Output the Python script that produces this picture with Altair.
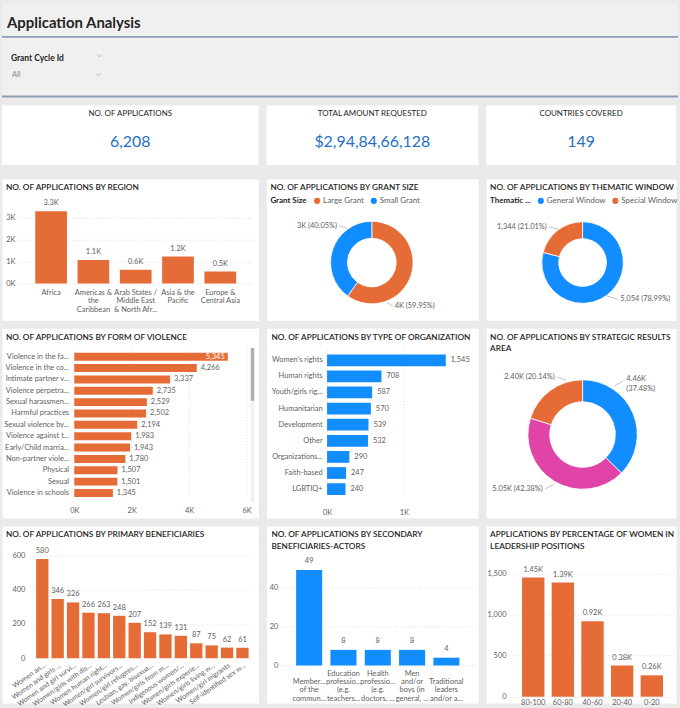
import altair as alt
import pandas as pd

FONT = "Segoe UI, Lato, sans-serif"
ORANGE = "#E66C37"
BLUE = "#118DFF"
PINK = "#E044A7"
TXT = "#252423"
LBL = "#605E5C"
KPI_BLUE = "#1F6FC5"
BG = "#EAEAEA"
HEADER_BG = "#F0F0F0"
LINE = "#8D9CB4"

# ---------------- data ----------------
page_title = "Application Analysis"
slicer_title = "Grant Cycle Id"
slicer_value = "All"

kpi_titles = ["NO. OF APPLICATIONS", "TOTAL AMOUNT REQUESTED", "COUNTRIES COVERED"]
kpi_values = ["6,208", "$2,94,84,66,128", "149"]

region_names = ["Africa", "Americas &|the|Caribbean", "Arab States /|Middle East|& North Afr...",
                "Asia & the|Pacific", "Europe &|Central Asia"]
region_counts = [3300, 1070, 630, 1230, 540]

grant_sizes = ["Large Grant", "Small Grant"]
grant_counts = [3957, 2643]
grant_labels = ["4K (59.95%)", "3K (40.05%)"]

thematic_windows = ["General Window", "Special Window"]
thematic_counts = [5054, 1344]
thematic_labels = ["5,054 (78.99%)", "1,344 (21.01%)"]

violence_forms = ["Violence in the fa...", "Violence in the co...", "Intimate partner v...",
                  "Violence perpetra...", "Sexual harassmen...", "Harmful practices",
                  "Sexual violence by...", "Violence against t...", "Early/Child marria...",
                  "Non-partner viole...", "Physical", "Sexual", "Violence in schools"]
violence_counts = [5345, 4266, 3337, 2735, 2529, 2502, 2194, 1983, 1943, 1780, 1507, 1501, 1345]

org_types = ["Women's rights", "Human rights", "Youth/girls rig...", "Humanitarian", "Development",
             "Other", "Organizations...", "Faith-based", "LGBTIQ+"]
org_counts = [1545, 708, 587, 570, 539, 532, 290, 247, 240]

sra_names = ["SRA A", "SRA B", "SRA C"]
sra_counts = [4460, 5050, 2400]
sra_labels = ["4.46K|(37.48%)", "5.05K (42.38%)", "2.40K (20.14%)"]

primary_groups = ["Women an...", "Women and girls ...", "Women and girl survi...", "Women/girls with dis...",
                  "Women human right...", "Women/girl survivors...", "Women/girl refugees...",
                  "Lesbian, gay, bisexua...", "Women/girls from m...", "Indigenous women/...",
                  "Women/girls experie...", "Women/girls living w...", "Women/girl migrants",
                  "Self-identified sex w..."]
primary_counts = [580, 346, 326, 266, 263, 248, 207, 152, 139, 131, 87, 75, 62, 61]

secondary_groups = ["Member...|of the|commun...", "Education|professio...|(e.g.|teachers...",
                    "Health|professio...|(e.g.|doctors, ...", "Men|and/or|boys (in|general, ...",
                    "Traditional|leaders|and/or a..."]
secondary_counts = [49, 8, 8, 8, 4]

leader_bands = ["80-100", "60-80", "40-60", "20-40", "0-20"]
leader_counts = [1450, 1390, 920, 380, 260]

panel_titles = {
    "region": "NO. OF APPLICATIONS BY REGION",
    "grant": "NO. OF APPLICATIONS BY GRANT SIZE",
    "thematic": "NO. OF APPLICATIONS BY THEMATIC WINDOW",
    "violence": "NO. OF APPLICATIONS BY FORM OF VIOLENCE",
    "org": "NO. OF APPLICATIONS BY TYPE OF ORGANIZATION",
    "sra": "NO. OF APPLICATIONS BY STRATEGIC RESULTS|AREA",
    "primary": "NO. OF APPLICATIONS BY PRIMARY BENEFICIARIES",
    "secondary": "NO. OF APPLICATIONS BY SECONDARY|BENEFICIARIES-ACTORS",
    "leader": "APPLICATIONS BY PERCENTAGE OF WOMEN IN|LEADERSHIP POSITIONS",
}

# ---------------- layout ----------------
W1, W2, W3 = 258, 213, 191
H_TOP, H2, H3, H4 = 169, 142, 191, 178
KPI_Y0, KPI_Y1 = 103, 163

ONE = pd.DataFrame({"k": [0]})
CLEAR = alt.ViewBackground(fill="transparent", stroke="transparent")


def txt(s, x, y, size=8.5, color=TXT, weight="normal", align="left", baseline="middle", lh=11.5):
    return alt.Chart(pd.DataFrame({"t": [s]})).mark_text(
        align=align, baseline=baseline, fontSize=size, color=color, fontWeight=weight,
        font=FONT, lineBreak="|", lineHeight=lh
    ).encode(x=alt.value(x), y=alt.value(y), text="t:N")


def title(s, x=4):
    return txt(s, x, 4.5, size=8.3, weight=600, baseline="top", lh=11.5)


def seg(x1, y1, x2, y2, color="#B5B5B5", width=0.8):
    return alt.Chart(ONE).mark_rule(color=color, strokeWidth=width).encode(
        x=alt.value(x1), y=alt.value(y1), x2=alt.value(x2), y2=alt.value(y2))


def box(x1, y1, x2, y2, color):
    return alt.Chart(ONE).mark_rect(color=color).encode(
        x=alt.value(x1), y=alt.value(y1), x2=alt.value(x2), y2=alt.value(y2))


def donut(names, counts, colors, cx, cy, r_in, r_out, legend):
    df = pd.DataFrame({"cat": names, "n": counts})
    return alt.Chart(df).transform_window(idx="row_number()").mark_arc(
        innerRadius=r_in, outerRadius=r_out, stroke="white", strokeWidth=0.8
    ).encode(
        theta=alt.Theta("n:Q", stack=True),
        order=alt.Order("idx:Q"),
        color=alt.Color("cat:N", scale=alt.Scale(domain=names, range=colors), legend=legend),
        x=alt.value(cx), y=alt.value(cy))


def donut_legend(ttl, x, y):
    return alt.Legend(title=ttl, orient="none", legendX=x, legendY=y, direction="horizontal",
                      titleOrient="left", symbolType="circle", symbolSize=38, symbolStrokeWidth=0,
                      labelFontSize=8, titleFontSize=8, titleFontWeight="bold", titleColor=TXT,
                      labelColor=LBL, labelFont=FONT, titleFont=FONT, columnPadding=5,
                      labelOffset=2, titlePadding=6)


# ---------------- header + KPI cards (top row) ----------------
chev = "M-1,-0.5L0,0.5L1,-0.5"
header_layers = [
    box(0, 0, 680, 95, HEADER_BG),
    txt(page_title, 5, 20, size=15, weight="bold"),
    seg(0, 34, 680, 34, color=LINE, width=2),
    seg(0, 94, 680, 94, color=LINE, width=2),
    txt(slicer_title, 9, 55, size=8.5, weight="bold"),
    txt(slicer_value, 10, 72, size=7.5, color="#8A8886"),
    alt.Chart(ONE).mark_point(shape=chev, filled=False, size=22, color="#8A8886", strokeWidth=0.8)
    .encode(x=alt.value(98), y=alt.value(53)),
    alt.Chart(ONE).mark_point(shape=chev, filled=False, size=22, color="#8A8886", strokeWidth=0.8)
    .encode(x=alt.value(97), y=alt.value(72)),
]


def top_cell(i, w):
    layers = list(header_layers) if i == 0 else []
    layers += [
        box(0, KPI_Y0, w, KPI_Y1, "white"),
        txt(kpi_titles[i], w / 2, KPI_Y0 + 8.5, size=8, align="center"),
        txt(kpi_values[i], w / 2, KPI_Y0 + 37, size=16, color=KPI_BLUE, align="center"),
    ]
    return alt.layer(*layers).properties(width=w, height=H_TOP, view=CLEAR)


# ---------------- row 2 ----------------
reg_df = pd.DataFrame({"region": region_names, "n": region_counts})
reg_x = alt.X("region:N", sort=region_names,
              scale=alt.Scale(range=[16, 253], paddingInner=0.25, paddingOuter=0.41),
              axis=alt.Axis(title=None, offset=-37, labelPadding=5, labelAngle=0, labelAlign="center",
                            labelBaseline="top", labelExpr="split(datum.label, '|')", labelLineHeight=8.5))
reg_y = alt.Y("n:Q", scale=alt.Scale(domain=[0, 3500], range=[105, 28], nice=False),
              axis=alt.Axis(title=None, values=[0, 1000, 2000, 3000], labelExpr="datum.value/1000 + 'K'",
                            offset=-16, labelPadding=3))
region = alt.layer(
    alt.Chart(reg_df).mark_bar(color=ORANGE).encode(x=reg_x, y=reg_y),
    alt.Chart(reg_df).transform_calculate(lab="format(datum.n/1000, '.1f') + 'K'")
    .mark_text(baseline="bottom", dy=-4, fontSize=7.5, color=LBL, font=FONT)
    .encode(x=alt.X("region:N", sort=region_names), y="n:Q", text="lab:N"),
    title(panel_titles["region"]),
).properties(width=W1, height=H2)

grant = alt.layer(
    donut(grant_sizes, grant_counts, [ORANGE, BLUE], 106, 84, 24.5, 41.5,
          donut_legend("Grant Size", 4, 18)),
    title(panel_titles["grant"]),
    txt(grant_labels[1], 71, 47, size=7.5, color=LBL, align="right"),
    seg(73, 47, 81, 49.5),
    txt(grant_labels[0], 129, 128, size=7.5, color=LBL, align="left"),
    seg(121, 124, 127, 128),
).properties(width=W2, height=H2)

thematic = alt.layer(
    donut(thematic_windows, thematic_counts, [BLUE, ORANGE], 97, 84, 24, 41,
          donut_legend("Thematic ...", 4, 18)),
    title(panel_titles["thematic"]),
    txt(thematic_labels[1], 61, 48, size=7.5, color=LBL, align="right"),
    seg(63, 48, 73, 50.5),
    txt(thematic_labels[0], 135, 121, size=7.5, color=LBL, align="left"),
    seg(121, 117.5, 133, 121),
).properties(width=W3, height=H2)

# ---------------- row 3 ----------------
vio_df = pd.DataFrame({"form": violence_forms, "n": violence_counts})
vio_y = alt.Y("form:N", sort=violence_forms,
              scale=alt.Scale(range=[23, 171.5], paddingInner=0.3, paddingOuter=0.15),
              axis=alt.Axis(title=None, offset=-70, labelPadding=3, labelFontSize=7.5))
vio_x = alt.X("n:Q", scale=alt.Scale(domain=[0, 6000], range=[72.7, 246], nice=False),
              axis=alt.Axis(title=None, values=[0, 2000, 4000, 6000], labelExpr="datum.value/1000 + 'K'",
                            offset=-16, labelPadding=4))
violence = alt.layer(
    alt.Chart(vio_df).mark_bar(color=ORANGE).encode(x=vio_x, y=vio_y),
    alt.Chart(vio_df).transform_filter("datum.n < 5000")
    .mark_text(align="left", dx=4, fontSize=7.5, color=LBL, font=FONT)
    .encode(x="n:Q", y=alt.Y("form:N", sort=violence_forms), text=alt.Text("n:Q", format=",")),
    alt.Chart(vio_df).transform_filter("datum.n >= 5000")
    .mark_text(align="right", dx=-3, fontSize=7.5, color="white", font=FONT)
    .encode(x="n:Q", y=alt.Y("form:N", sort=violence_forms), text=alt.Text("n:Q", format=",")),
    seg(252, 20, 252, 175, color="#F1F1F1", width=3.5),
    seg(252, 20, 252, 73, color="#B0B0B0", width=3.5),
    title(panel_titles["violence"]),
).properties(width=W1, height=H3)

org_df = pd.DataFrame({"org": org_types, "n": org_counts})
org_y = alt.Y("org:N", sort=org_types,
              scale=alt.Scale(range=[24.2, 170], paddingInner=0.27, paddingOuter=0.135),
              axis=alt.Axis(title=None, offset=-59, labelPadding=3, labelFontSize=7.5))
org_x = alt.X("n:Q", scale=alt.Scale(domain=[0, 1700], range=[61, 192.4], nice=False),
              axis=alt.Axis(title=None, values=[0, 1000], labelExpr="datum.value/1000 + 'K'",
                            offset=-14, labelPadding=4))
org = alt.layer(
    alt.Chart(org_df).mark_bar(color=BLUE).encode(x=org_x, y=org_y),
    alt.Chart(org_df).mark_text(align="left", dx=5, fontSize=7.5, color=LBL, font=FONT)
    .encode(x="n:Q", y=alt.Y("org:N", sort=org_types), text=alt.Text("n:Q", format=",")),
    title(panel_titles["org"], x=5),
).properties(width=W2, height=H3)

sra = alt.layer(
    donut(sra_names, sra_counts, [BLUE, PINK, ORANGE], 97, 107, 33, 55, None),
    title(panel_titles["sra"]),
    txt(sra_labels[2], 69, 49, size=7.5, color=LBL, align="right"),
    seg(71, 49, 80, 52),
    txt(sra_labels[0], 141, 51, size=7.5, color=LBL, align="left", lh=10),
    seg(129, 58, 138, 53),
    txt(sra_labels[1], 57, 162, size=7.5, color=LBL, align="right"),
    seg(59, 162, 68, 157),
).properties(width=W3, height=H3)

# ---------------- row 4 ----------------
pri_df = pd.DataFrame({"grp": primary_groups, "n": primary_counts})
pri_x = alt.X("grp:N", sort=primary_groups,
              scale=alt.Scale(range=[32, 250.4], paddingInner=0.2, paddingOuter=0.15),
              axis=alt.Axis(title=None, offset=-45, labelPadding=3, labelAngle=-35, labelAlign="right",
                            labelBaseline="top", labelFontSize=7))
pri_y = alt.Y("n:Q", scale=alt.Scale(domain=[0, 600], range=[133, 29.7], nice=False),
              axis=alt.Axis(title=None, values=[0, 200, 400, 600], offset=-32, labelPadding=9))
primary = alt.layer(
    alt.Chart(pri_df).mark_bar(color=ORANGE).encode(x=pri_x, y=pri_y),
    alt.Chart(pri_df).mark_text(baseline="bottom", dy=-4, fontSize=7.5, color=LBL, font=FONT)
    .encode(x=alt.X("grp:N", sort=primary_groups), y="n:Q", text="n:Q"),
    title(panel_titles["primary"]),
).properties(width=W1, height=H4)

sec_df = pd.DataFrame({"grp": secondary_groups, "n": secondary_counts})
sec_x = alt.X("grp:N", sort=secondary_groups,
              scale=alt.Scale(range=[14, 210], paddingInner=0.24, paddingOuter=0.46),
              axis=alt.Axis(title=None, offset=-37.7, labelPadding=4, labelAngle=0, labelAlign="center",
                            labelBaseline="top", labelLineHeight=8.3,
                            labelExpr="length(split(datum.label, '|')) < 4 ? split('|' + datum.label, '|') : split(datum.label, '|')"))
sec_y = alt.Y("n:Q", scale=alt.Scale(domain=[0, 50], range=[140.3, 42.3], nice=False),
              axis=alt.Axis(title=None, values=[0, 20, 40], offset=-14, labelPadding=2.5))
secondary = alt.layer(
    alt.Chart(sec_df).mark_bar(color=BLUE).encode(x=sec_x, y=sec_y),
    alt.Chart(sec_df).mark_text(baseline="bottom", dy=-5, fontSize=7.5, color=LBL, font=FONT)
    .encode(x=alt.X("grp:N", sort=secondary_groups), y="n:Q", text="n:Q"),
    title(panel_titles["secondary"], x=5),
).properties(width=W2, height=H4)

lead_df = pd.DataFrame({"band": leader_bands, "n": leader_counts})
lead_x = alt.X("band:N", sort=leader_bands,
               scale=alt.Scale(range=[23, 191], paddingInner=0.245, paddingOuter=0.44),
               axis=alt.Axis(title=None, offset=-6.3, labelPadding=1.5, labelAngle=0, labelAlign="center",
                             labelBaseline="top"))
lead_y = alt.Y("n:Q", scale=alt.Scale(domain=[0, 1500], range=[171.7, 47.8], nice=False),
               axis=alt.Axis(title=None, values=[0, 500, 1000, 1500], labelExpr="format(datum.value, ',')",
                             offset=-23, labelPadding=3))
leader = alt.layer(
    alt.Chart(lead_df).mark_bar(color=ORANGE).encode(x=lead_x, y=lead_y),
    alt.Chart(lead_df).transform_calculate(lab="format(datum.n/1000, '.2f') + 'K'")
    .mark_text(baseline="bottom", dy=-4, fontSize=7.5, color=LBL, font=FONT)
    .encode(x=alt.X("band:N", sort=leader_bands), y="n:Q", text="lab:N"),
    title(panel_titles["leader"]),
).properties(width=W3, height=H4)

cells = [top_cell(0, W1), top_cell(1, W2), top_cell(2, W3),
         region, grant, thematic,
         violence, org, sra,
         primary, secondary, leader]

chart = alt.concat(*cells, columns=3, spacing=8, bounds="flush").resolve_scale(
    color="independent").resolve_legend(color="independent").properties(
    padding=0, background=BG
).configure_view(
    stroke="transparent", fill="white"
).configure_axis(
    labelFont=FONT, labelColor=LBL, labelFontSize=7.5, ticks=False, domain=False,
    gridColor="#D4D4D4", gridDash=[1, 2], gridWidth=0.8, labelFlush=False, labelOverlap=False
)

chart.save("out.html", embed_options={"renderer": "svg", "actions": False})
